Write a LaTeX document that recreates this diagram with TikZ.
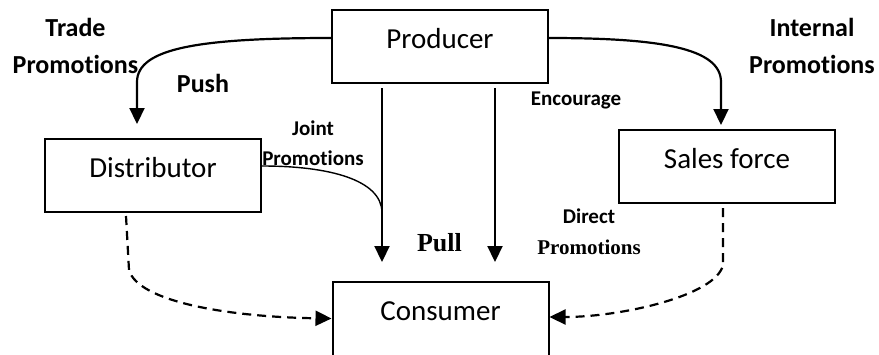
\documentclass[tikz,border=0pt]{standalone}
\usepackage{fontspec}
\setmainfont[Ligatures={NoCommon}]{Carlito}
\newfontfamily\serifb{Liberation Serif}
\usetikzlibrary{arrows.meta,calc}
\begin{document}
\begin{tikzpicture}[x=1pt,y=-1pt,
  box/.style={draw,line width=2pt,minimum width=216pt,inner sep=0pt,
    text height=38.5pt,text depth=34.5pt,font=\fontsize{29}{34}\selectfont},
  arr/.style={line width=2.2pt,-{Triangle[length=16pt,width=15pt]}},
  dasharr/.style={line width=2.2pt,dash pattern=on 9pt off 6pt,-{Triangle[length=16pt,width=15pt]}},
  big/.style={font=\fontsize{26}{37}\selectfont\bfseries,align=center,inner sep=0pt},
  small/.style={font=\fontsize{21}{30}\selectfont\bfseries,align=center,inner sep=0pt}]
\useasboundingbox (0,0) rectangle (879,354);
\node[box] (prod) at (440,46.5) {Producer};
\node[box] (dist) at (153,175.5) {Distributor};
\node[box] (sales) at (727,166.5) {Sales force};
\node[box,text depth=60pt,anchor=north] (cons) at (440.5,281) {Consumer};

\coordinate (distin) at (137,124);
\coordinate (salesin) at (721,125);
\coordinate (p1) at (382,88);
\coordinate (p2) at (495,88);
\coordinate (c1) at (382,262);
\coordinate (c2) at (495,262);
\coordinate (j) at (382,212);
\coordinate (d0) at (126,216);
\coordinate (s0) at (723,208);

\draw[arr] ([yshift=8.5pt]prod.west) .. controls (200,38) and (137,48) .. (137,82) -- (distin);
\draw[arr] ([yshift=8.5pt]prod.east) .. controls (660,38) and (721,48) .. (721,82) -- (salesin);
\draw[arr] (p1) -- (c1);
\draw[arr] (p2) -- (c2);
\draw[line width=1.4pt] ([yshift=9.5pt]dist.east) .. controls (330,166) and (381,180) .. (j);
\draw[dasharr] (d0) -- (129,270) .. controls (138,302) and (230,317) .. ([yshift=-1.5pt]cons.west |- 0,317);
\draw[dasharr] (s0) -- (723,265) .. controls (716,296) and (620,317) .. (cons.east |- 0,317);

\node[big] (trade) at (75.5,45.5) {Trade\\Promotions};
\node[big] (push) at (203,83) {Push};
\node[big] (internal) at (812,45.5) {Internal\\Promotions};
\node[small] (joint) at (313,143) {Joint\\Promotions};
\node[small] (enc) at (576,100) {Encourage};
\node[big,font=\fontsize{26}{37}\selectfont\serifb\bfseries] (pull) at (439.5,243) {Pull};
\node[small,font=\fontsize{21}{31}\selectfont\bfseries] (direct) at (589,232) {Direct\\{\serifb\bfseries Promotions}};
\end{tikzpicture}
\end{document}
